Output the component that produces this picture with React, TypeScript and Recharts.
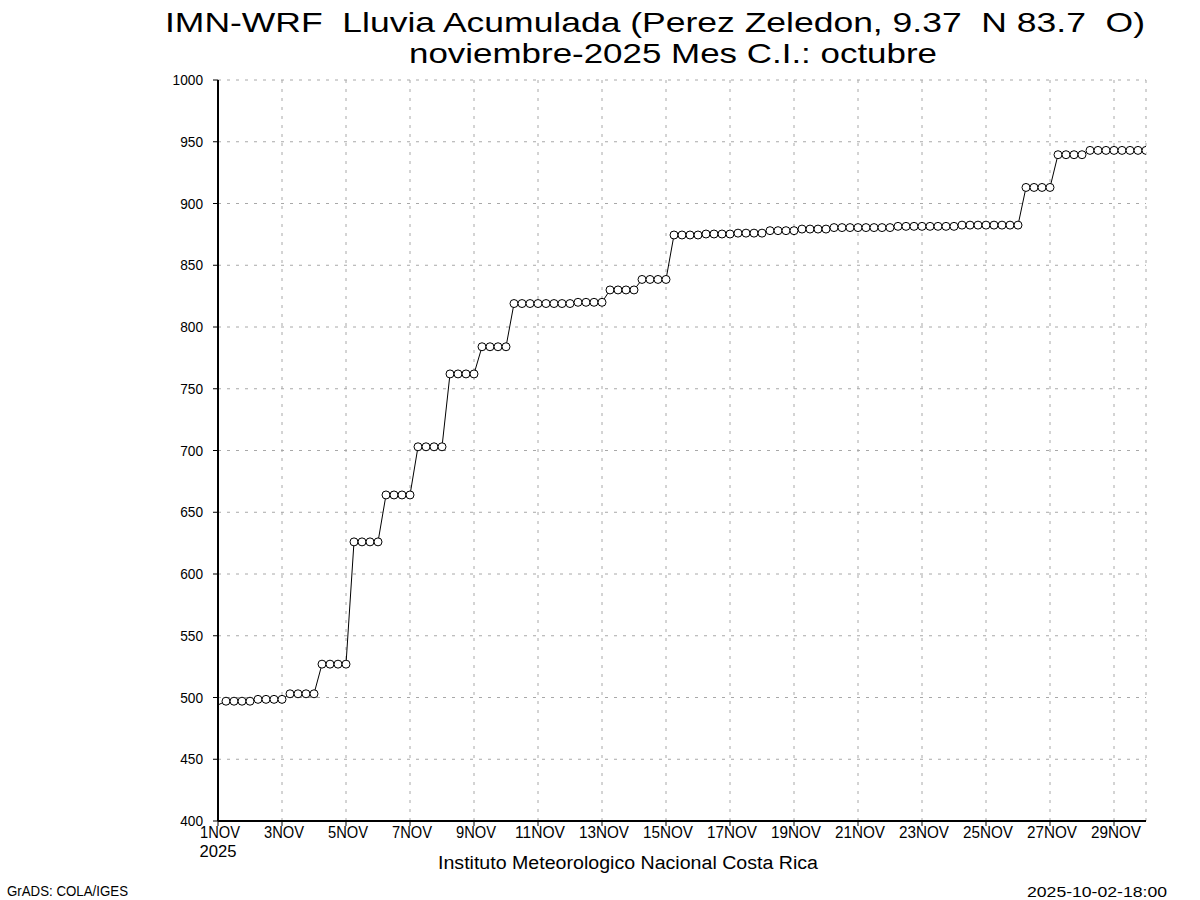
import React from 'react';
import { LineChart, Line, XAxis, YAxis, CartesianGrid } from 'recharts';

// Accumulated rain (mm), one value every 6 h from 1NOV 00Z to 30NOV 00Z
const rain = [
  494,
  497, 497, 497, 497,
  498.5, 498.5, 498.5, 498.5,
  503, 503, 503, 503,
  527, 527, 527, 527,
  626, 626, 626, 626,
  664, 664, 664, 664,
  703, 703, 703, 703,
  762, 762, 762, 762,
  784, 784, 784, 784,
  819, 819, 819, 819, 819, 819, 819, 819,
  820, 820, 820, 820,
  830, 830, 830, 830,
  838.5, 838.5, 838.5, 838.5,
  874.5, 874.5, 874.5, 874.5,
  875.3, 875.3, 875.3, 875.3,
  876, 876, 876, 876,
  878, 878, 878, 878,
  879.3, 879.3, 879.3, 879.3,
  880.5, 880.5, 880.5, 880.5, 880.5, 880.5, 880.5, 880.5,
  881.5, 881.5, 881.5, 881.5, 881.5, 881.5, 881.5, 881.5,
  882.5, 882.5, 882.5, 882.5, 882.5, 882.5, 882.5, 882.5,
  913, 913, 913, 913,
  939.5, 939.5, 939.5, 939.5,
  943, 943, 943, 943, 943, 943, 943, 943,
];

const xTickIdx = [0, 8, 16, 24, 32, 40, 48, 56, 64, 72, 80, 88, 96, 104, 112];
const xTickLabels = ['1NOV', '3NOV', '5NOV', '7NOV', '9NOV', '11NOV', '13NOV', '15NOV', '17NOV', '19NOV', '21NOV', '23NOV', '25NOV', '27NOV', '29NOV'];
const yTicks = [400, 450, 500, 550, 600, 650, 700, 750, 800, 850, 900, 950, 1000];

const title1 = 'IMN-WRF  Lluvia Acumulada (Perez Zeledon, 9.37  N 83.7  O)';
const title2 = 'noviembre-2025 Mes C.I.: octubre';
const xLabel = 'Instituto Meteorologico Nacional Costa Rica';
const yearLabel = '2025';
const leftFooter = 'GrADS: COLA/IGES';
const rightFooter = '2025-10-02-18:00';

const data = rain.map((v, i) => ({ i, v }));

const FONT = "'Liberation Sans', Arial, sans-serif";

const Dot = (props: any) => {
  const { cx, cy, index } = props;
  if (index === 0 || cx == null || cy == null) return <g key={`d${index}`} />;
  return <circle key={`d${index}`} cx={cx} cy={cy} r={4} fill="#fff" stroke="#000" strokeWidth={1} />;
};

const XTick = (props: any) => {
  const { x, y, payload } = props;
  const idx = xTickIdx.indexOf(payload.value);
  const label = xTickLabels[idx] ?? '';
  return (
    <g>
      <text x={x + 2} y={y + 12} textAnchor="middle" fontSize={16} fontFamily={FONT} fill="#000"
        textLength={label.length * 10} lengthAdjust="spacingAndGlyphs">{label}</text>
      {idx === 0 && (
        <text x={x} y={y + 31} textAnchor="middle" fontSize={16} fontFamily={FONT} fill="#000"
          textLength={37} lengthAdjust="spacingAndGlyphs">{yearLabel}</text>
      )}
    </g>
  );
};

const YTick = (props: any) => {
  const { x, y, payload } = props;
  const label = String(payload.value);
  return (
    <text x={x} y={y + 5} textAnchor="end" fontSize={15} fontFamily={FONT} fill="#000"
      textLength={label.length * 7.6} lengthAdjust="spacingAndGlyphs">{label}</text>
  );
};

export default function App() {
  return (
    <div style={{ position: 'absolute', left: 0, top: 0, width: 1200, height: 900, background: '#fff' }}>
      <LineChart width={1200} height={900} data={data} margin={{ top: 80, right: 54, bottom: 49, left: 158 }}>
        <CartesianGrid xAxisId="b" yAxisId="l" stroke="#a8a8a8" strokeDasharray="3 6" />
        <XAxis xAxisId="b" dataKey="i" type="number" domain={[0, 116]} ticks={xTickIdx} interval={0}
          tick={<XTick />} tickSize={5} tickMargin={0} height={30}
          tickLine={{ stroke: '#000' }} axisLine={{ stroke: '#000', strokeWidth: 2 }} allowDataOverflow />
        <XAxis xAxisId="t" dataKey="i" type="number" domain={[0, 116]} orientation="top" height={0}
          tick={false} tickLine={false} axisLine={{ stroke: '#000', strokeWidth: 2 }} />
        <YAxis yAxisId="l" type="number" domain={[400, 1000]} ticks={yTicks} interval={0} width={60}
          tick={<YTick />} tickSize={5} tickMargin={10}
          tickLine={{ stroke: '#000' }} axisLine={{ stroke: '#000', strokeWidth: 2 }} allowDataOverflow />
        <YAxis yAxisId="r" type="number" domain={[400, 1000]} orientation="right" width={0}
          tick={false} tickLine={false} axisLine={{ stroke: '#000', strokeWidth: 2 }} />
        <Line xAxisId="b" yAxisId="l" type="linear" dataKey="v" stroke="#000" strokeWidth={1}
          dot={Dot} activeDot={false} isAnimationActive={false} />
      </LineChart>
      <svg width={1200} height={900} style={{ position: 'absolute', left: 0, top: 0, pointerEvents: 'none' }}>
        <text x={655} y={32} textAnchor="middle" fontSize={28} fontFamily={FONT} fill="#000"
          style={{ whiteSpace: 'pre' }} textLength={980} lengthAdjust="spacingAndGlyphs">{title1}</text>
        <text x={673} y={63} textAnchor="middle" fontSize={28} fontFamily={FONT} fill="#000"
          style={{ whiteSpace: 'pre' }} textLength={528} lengthAdjust="spacingAndGlyphs">{title2}</text>
        <text x={628} y={869} textAnchor="middle" fontSize={18} fontFamily={FONT} fill="#000"
          textLength={380} lengthAdjust="spacingAndGlyphs">{xLabel}</text>
        <text x={7} y={896} textAnchor="start" fontSize={15} fontFamily={FONT} fill="#000"
          textLength={121} lengthAdjust="spacingAndGlyphs">{leftFooter}</text>
        <text x={1027} y={897} textAnchor="start" fontSize={15} fontFamily={FONT} fill="#000"
          textLength={140} lengthAdjust="spacingAndGlyphs">{rightFooter}</text>
      </svg>
    </div>
  );
}
